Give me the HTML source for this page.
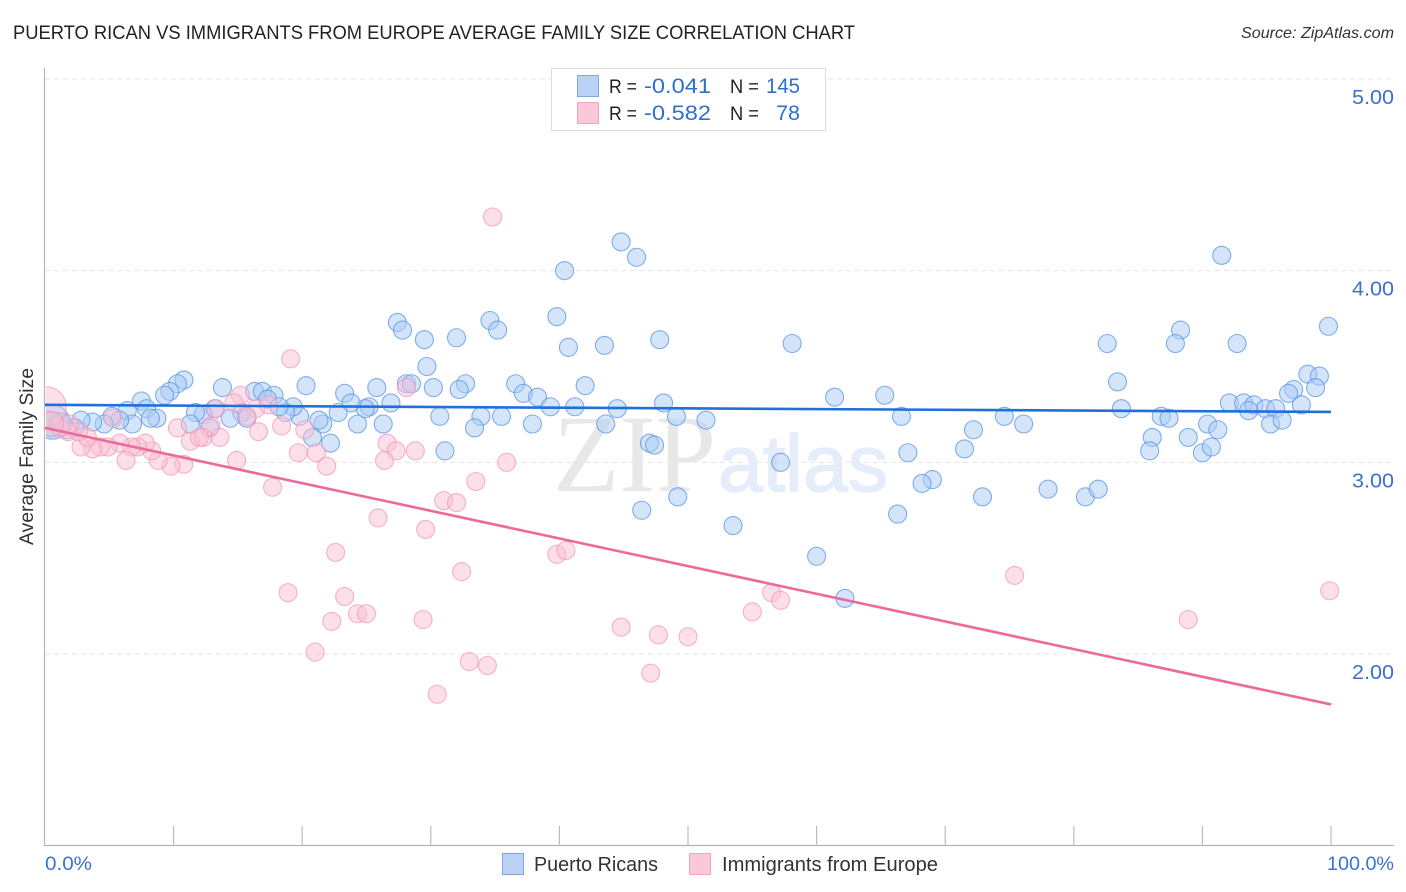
<!DOCTYPE html>
<html>
<head>
<meta charset="utf-8">
<title>Puerto Rican vs Immigrants from Europe Average Family Size Correlation Chart</title>
<style>
html,body{margin:0;padding:0;background:#fff;width:1406px;height:892px;overflow:hidden}
svg{display:block}
text{font-family:"Liberation Sans",sans-serif}
</style>
</head>
<body>
<svg id="chart" width="1406" height="892" viewBox="0 0 1406 892" xmlns="http://www.w3.org/2000/svg">
  <defs><clipPath id="plot-clip"><rect x="46" y="60" width="1348" height="785"/></clipPath></defs>
  <text x="13" y="39" font-size="19.5" fill="#222" textLength="842" lengthAdjust="spacingAndGlyphs">PUERTO RICAN VS IMMIGRANTS FROM EUROPE AVERAGE FAMILY SIZE CORRELATION CHART</text>
  <text x="1241" y="38" font-size="16" font-style="italic" fill="#333" textLength="153" lengthAdjust="spacingAndGlyphs">Source: ZipAtlas.com</text>
  <g id="grid"></g>
  <g>
    <text x="553" y="491" font-size="110" fill="#e8e8e8" textLength="163" lengthAdjust="spacingAndGlyphs" style="font-family:'Liberation Serif',serif">ZIP</text>
    <text x="718" y="491" font-size="80" fill="#e4edf9" stroke="#e4edf9" stroke-width="1.5" textLength="170" lengthAdjust="spacingAndGlyphs">atlas</text>
  </g>
  <g id="axes"></g>
  <g id="points" clip-path="url(#plot-clip)"></g>
  <g id="trends"></g>
  <text transform="translate(33,456.5) rotate(-90)" font-size="19" fill="#333" text-anchor="middle" textLength="177" lengthAdjust="spacingAndGlyphs">Average Family Size</text>
  <g>
    <rect x="551.5" y="68.5" width="274" height="62" fill="#fff" stroke="#ddd" stroke-width="1"/>
    <rect x="577.5" y="75.5" width="21" height="21" fill="#b9d2f6" stroke="#7fa8e0"/>
    <rect x="577.5" y="102.5" width="21" height="21" fill="#fbc8d9" stroke="#f3a5c0"/>
    <text x="609" y="93" font-size="19" fill="#222" textLength="28" lengthAdjust="spacingAndGlyphs">R =</text>
    <text x="644" y="93" font-size="21.5" fill="#2f6fd0" textLength="67" lengthAdjust="spacingAndGlyphs">-0.041</text>
    <text x="730" y="93" font-size="19" fill="#222" textLength="29" lengthAdjust="spacingAndGlyphs">N =</text>
    <text x="766" y="93" font-size="21.5" fill="#2f6fd0" textLength="34" lengthAdjust="spacingAndGlyphs">145</text>
    <text x="609" y="120" font-size="19" fill="#222" textLength="28" lengthAdjust="spacingAndGlyphs">R =</text>
    <text x="644" y="120" font-size="21.5" fill="#2f6fd0" textLength="67" lengthAdjust="spacingAndGlyphs">-0.582</text>
    <text x="730" y="120" font-size="19" fill="#222" textLength="29" lengthAdjust="spacingAndGlyphs">N =</text>
    <text x="800" y="120" font-size="21.5" fill="#2f6fd0" text-anchor="end">78</text>
  </g>
  <g>
    <rect x="502.5" y="853.5" width="21" height="21" fill="#b9d2f6" stroke="#7fa8e0"/>
    <text x="534" y="871" font-size="20" fill="#333" textLength="124" lengthAdjust="spacingAndGlyphs">Puerto Ricans</text>
    <rect x="689.5" y="853.5" width="21" height="21" fill="#fbc8d9" stroke="#f3a5c0"/>
    <text x="722" y="871" font-size="20" fill="#333" textLength="216" lengthAdjust="spacingAndGlyphs">Immigrants from Europe</text>
  </g>
</svg>
<script>
const yTicks = [5, 4, 3, 2];
const yTickLabels = ["5.00", "4.00", "3.00", "2.00"];
const xTicks = [0, 10, 20, 30, 40, 50, 60, 70, 80, 90, 100];
const xEndLabels = ["0.0%", "100.0%"];

const blueX = [44.8,46.0,40.4,91.5,99.8,39.8,27.4,27.8,29.5,32.0,34.6,35.2,40.7,43.5,47.8,58.1,82.6,88.3,87.9,92.7,29.7,98.2,99.1,83.4,10.8,10.3,9.7,9.3,7.5,7.9,6.4,13.8,16.3,16.9,17.8,17.3,20.3,23.3,25.8,28.1,28.5,30.2,32.7,32.2,36.6,37.2,38.3,42.0,39.3,41.2,44.5,48.1,49.1,51.4,61.4,65.3,66.6,74.6,76.1,83.7,86.8,87.4,97.1,96.7,98.8,92.1,93.2,94.0,94.9,95.7,93.6,97.7,95.3,96.2,90.4,91.2,88.9,86.1,85.9,90.0,90.7,72.2,71.5,67.1,69.0,68.2,66.3,72.9,78.0,80.9,81.9,53.5,60.0,62.2,49.2,46.4,57.2,47.0,47.4,43.6,37.9,35.5,33.9,33.4,31.1,30.7,26.9,26.3,25.2,24.9,24.3,23.8,22.8,22.2,21.6,21.3,20.8,19.8,19.3,18.7,18.2,15.3,15.7,14.4,13.2,12.3,11.7,11.3,12.8,8.7,8.2,6.8,5.8,5.2,4.6,3.7,2.8,2.3,1.7,1.2,0.5,0.4];
const blueY = [4.15,4.07,4.00,4.08,3.71,3.76,3.73,3.69,3.64,3.65,3.74,3.69,3.60,3.61,3.64,3.62,3.62,3.69,3.62,3.62,3.50,3.46,3.45,3.42,3.43,3.41,3.37,3.35,3.32,3.28,3.27,3.39,3.37,3.37,3.35,3.33,3.40,3.36,3.39,3.41,3.41,3.39,3.41,3.38,3.41,3.36,3.34,3.40,3.29,3.29,3.28,3.31,3.24,3.22,3.34,3.35,3.24,3.24,3.20,3.28,3.24,3.23,3.38,3.36,3.39,3.31,3.31,3.30,3.28,3.28,3.27,3.30,3.20,3.22,3.20,3.17,3.13,3.13,3.06,3.05,3.08,3.17,3.07,3.05,2.91,2.89,2.73,2.82,2.86,2.82,2.86,2.67,2.51,2.29,2.82,2.75,3.00,3.10,3.09,3.20,3.20,3.24,3.24,3.18,3.06,3.24,3.31,3.20,3.29,3.28,3.20,3.31,3.26,3.10,3.20,3.22,3.13,3.24,3.29,3.26,3.29,3.26,3.23,3.23,3.28,3.25,3.26,3.20,3.18,3.23,3.23,3.20,3.22,3.24,3.20,3.21,3.22,3.18,3.17,3.20,3.18,3.22];
const blueMajorX = [0.6, 1.2];
const blueMajorY = [3.21, 3.20];
const blueMajorWeight = [3.6, 1.6];

const pinkX = [34.8,19.1,28.1,15.2,14.7,13.3,16.4,10.3,12.9,11.3,12.3,13.6,18.4,16.6,20.2,26.6,27.3,28.8,26.4,19.7,21.1,21.9,14.9,35.9,33.5,17.7,31.0,32.0,25.9,29.6,22.6,39.8,40.5,32.4,18.9,23.3,56.5,57.2,55.0,75.4,99.9,88.9,22.3,24.3,25.0,29.4,44.8,47.7,50.0,21.0,33.0,34.4,47.1,30.5,10.8,9.8,8.8,8.3,7.8,7.2,6.7,5.8,6.3,4.9,4.3,3.7,2.8,3.3,2.6,1.8,1.2,1.9,5.3,17.4,15.7,12.0];
const pinkY = [4.28,3.54,3.39,3.35,3.31,3.28,3.28,3.18,3.19,3.11,3.13,3.13,3.19,3.16,3.17,3.10,3.06,3.06,3.01,3.05,3.05,2.98,3.01,3.00,2.90,2.87,2.80,2.79,2.71,2.65,2.53,2.52,2.54,2.43,2.32,2.30,2.32,2.28,2.22,2.41,2.33,2.18,2.17,2.21,2.21,2.18,2.14,2.10,2.09,2.01,1.96,1.94,1.90,1.79,2.99,2.98,3.01,3.06,3.10,3.08,3.08,3.10,3.01,3.08,3.08,3.07,3.08,3.13,3.16,3.16,3.18,3.20,3.23,3.30,3.24,3.13];
const pinkMajorX = [0.1, 0.5];
const pinkMajorY = [3.29, 3.20];
const pinkMajorWeight = [4.9, 1.8];

const blueTrendX = [0, 100];
const blueTrendY = [3.30, 3.263];
const pinkTrendX = [0, 100];
const pinkTrendY = [3.18, 1.737];

const NS = "http://www.w3.org/2000/svg";
function xScale(v) { return 45 + v * 12.86; }
function yScale(v) { return 79 + (5 - v) * 191.67; }
function rScale(w) { return 9 * Math.sqrt(w); }
function make(tag, attrs, parent) {
  const el = document.createElementNS(NS, tag);
  for (const k in attrs) el.setAttribute(k, attrs[k]);
  parent.appendChild(el);
  return el;
}

const gridG = document.getElementById("grid");
const axesG = document.getElementById("axes");
const pointsG = document.getElementById("points");
const trendsG = document.getElementById("trends");

yTicks.forEach(function (t, i) {
  const line = make("line", {x1: 45, x2: 1394, y1: yScale(t), y2: yScale(t), stroke: "#e4e4e4", "stroke-width": 1, "stroke-dasharray": "5 4"}, gridG);
  
  
  const label = make("text", {x: 1352, y: yScale(t) + 25, "font-size": 20.5, fill: "#3a72d2", textLength: 42, lengthAdjust: "spacingAndGlyphs"}, axesG);
  label.textContent = yTickLabels[i];
  
  
});

const yAxisLine = make("line", {x1: 44.5, x2: 44.5, y1: 68, y2: 846, stroke: "#b4b4b4", "stroke-width": 1.2}, axesG);


const xAxisLine = make("line", {x1: 44, x2: 1394, y1: 845.5, y2: 845.5, stroke: "#b4b4b4", "stroke-width": 1.2}, axesG);



xTicks.forEach(function (t) {
  if (t === 0) return;
  const tick = make("line", {x1: xScale(t), x2: xScale(t), y1: 826, y2: 846, stroke: "#bcbcbc", "stroke-width": 1.2}, axesG);
  
  
});

const xLabelStart = make("text", {x: 45, y: 870, "font-size": 19.5, fill: "#3a72d2", textLength: 47, lengthAdjust: "spacingAndGlyphs"}, axesG);
xLabelStart.textContent = xEndLabels[0];


const xLabelEnd = make("text", {x: 1327, y: 870, "font-size": 19.5, fill: "#3a72d2", textLength: 67, lengthAdjust: "spacingAndGlyphs"}, axesG);
xLabelEnd.textContent = xEndLabels[1];



function drawDots(xs, ys, weight, fill, stroke, name) {
  xs.forEach(function (x, i) {
    const c = make("circle", {cx: xScale(x), cy: yScale(ys[i]), r: rScale(weight ? weight[i] : 1), fill: fill, "fill-opacity": 0.5, stroke: stroke, "stroke-opacity": 0.75, "stroke-width": 1.1}, pointsG);
    
    
  });
}
drawDots(blueX, blueY, null, "#a9cbf6", "#5a96e4", "puerto-rican-point");
drawDots(blueMajorX, blueMajorY, blueMajorWeight, "#a9cbf6", "#5a96e4", "puerto-rican-point");
drawDots(pinkX, pinkY, null, "#fbc0d3", "#f29abb", "immigrants-point");
drawDots(pinkMajorX, pinkMajorY, pinkMajorWeight, "#fbc0d3", "#f29abb", "immigrants-point");

const blueTrend = make("line", {x1: xScale(blueTrendX[0]), y1: yScale(blueTrendY[0]), x2: xScale(blueTrendX[1]), y2: yScale(blueTrendY[1]), stroke: "#1f6fdc", "stroke-width": 2.6}, trendsG);


const pinkTrend = make("line", {x1: xScale(pinkTrendX[0]), y1: yScale(pinkTrendY[0]), x2: xScale(pinkTrendX[1]), y2: yScale(pinkTrendY[1]), stroke: "#ec6a9b", "stroke-width": 2.6}, trendsG);


</script>
</body>
</html>
